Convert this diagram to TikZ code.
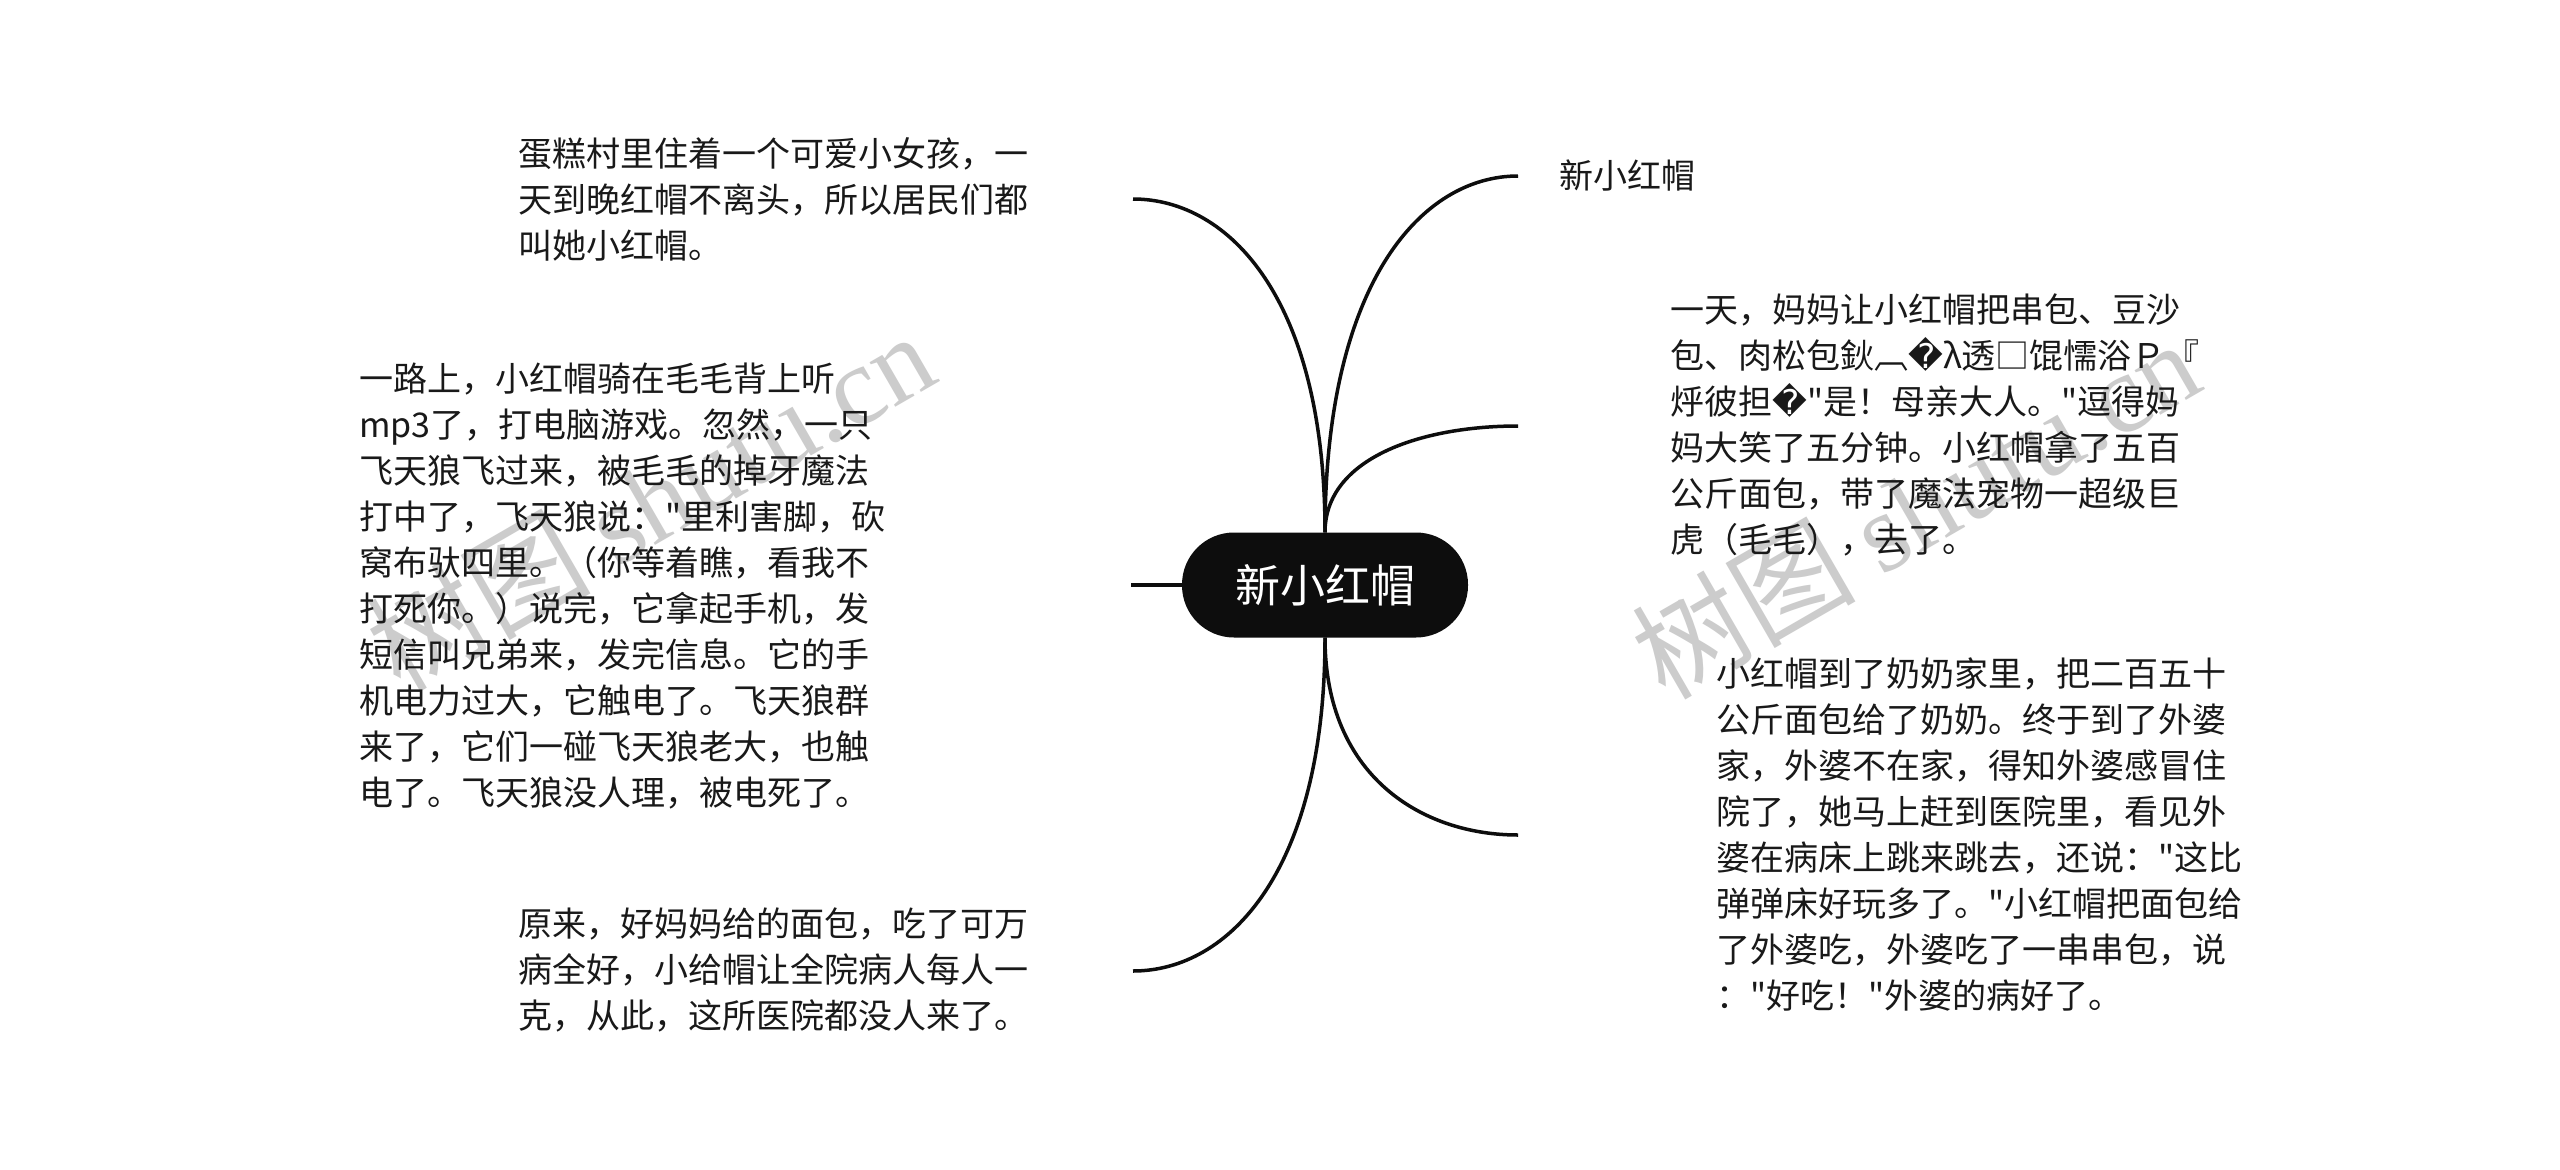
\documentclass[tikz,border=0pt]{standalone}
\usepackage{fontspec}
\setmainfont{Noto Sans CJK SC}
\newfontfamily\cjk{Noto Sans CJK SC}
\newfontfamily\dejavu{DejaVu Sans}
\newfontfamily\wmserif{Liberation Serif}
\usetikzlibrary{calc}
\newcommand{\rpl}{{\dejavu\symbol{"FFFD}}}
\tikzset{
  leaf/.style={anchor=west, align=left, inner sep=0pt, text=black!90,
    font=\cjk\fontsize{34}{46}\selectfont},
  rootbox/.style={fill=black!95, rounded corners=52pt, minimum width=286pt,
    minimum height=105pt, inner sep=0pt, text=white, font=\cjk\fontsize{45}{50}\selectfont},
  branch/.style={line width=3.5pt, draw=black!95},
  wm/.style={text=black!20, rotate=30, inner sep=0pt, font=\cjk\fontsize{112}{116}\selectfont},
}
\begin{document}
\begin{tikzpicture}[x=1pt,y=-1pt]
\useasboundingbox (0,0) rectangle (2560,1170);
\fill[white] (0,0) rectangle (2560,1170);

% watermarks
\node[wm] (wm1) at (650,500) {树图 {\wmserif shutu.cn}};
\node[wm] (wm2) at (1915,508) {树图 {\wmserif shutu.cn}};

% root
\node[rootbox] (root) at (1325,585) {新小红帽};

% connector ends
\coordinate (e1) at (1133,199);
\coordinate (e2) at (1131,585);
\coordinate (e3) at (1133,971);
\coordinate (e4) at (1518,176);
\coordinate (e5) at (1518,426);
\coordinate (e6) at (1518,835);

% leaves
\node[leaf] (t1) at (518,199) {蛋糕村里住着一个可爱小女孩，一\\天到晚红帽不离头，所以居民们都\\叫她小红帽。};
\node[leaf] (t2) at (359,586) {一路上，小红帽骑在毛毛背上听\\mp3了，打电脑游戏。忽然，一只\\飞天狼飞过来，被毛毛的掉牙魔法\\打中了，飞天狼说："里利害脚，砍\\窝布驮四里。（你等着瞧，看我不\\打死你。）说完，它拿起手机，发\\短信叫兄弟来，发完信息。它的手\\机电力过大，它触电了。飞天狼群\\来了，它们一碰飞天狼老大，也触\\电了。飞天狼没人理，被电死了。};
\node[leaf] (t3) at (518,970) {原来，好妈妈给的面包，吃了可万\\病全好，小给帽让全院病人每人一\\克，从此，这所医院都没人来了。};
\node[leaf] (t4) at (1559,176) {新小红帽};
\node[leaf] (t5) at (1670,425) {一天，妈妈让小红帽把串包、豆沙\\包、肉松包鈥︹\rpl λ透□馄懦浴Ｐ『\\烀彼担\rpl"是！母亲大人。"逗得妈\\妈大笑了五分钟。小红帽拿了五百\\公斤面包，带了魔法宠物一超级巨\\虎（毛毛），去了。};
\node[leaf] (t6) at (1716,834) {小红帽到了奶奶家里，把二百五十\\公斤面包给了奶奶。终于到了外婆\\家，外婆不在家，得知外婆感冒住\\院了，她马上赶到医院里，看见外\\婆在病床上跳来跳去，还说："这比\\弹弹床好玩多了。"小红帽把面包给\\了外婆吃，外婆吃了一串串包，说\\："好吃！"外婆的病好了。};

% connectors
\draw[branch] (root.north) .. controls ($(root.north)!0.7!(root.north|-e1)$) and ($(e1)!0.5!(root.north|-e1)$) .. (e1);
\draw[branch] (root.west) -- (e2);
\draw[branch] (root.south) .. controls ($(root.south)!0.7!(root.south|-e3)$) and ($(e3)!0.5!(root.south|-e3)$) .. (e3);
\draw[branch] (root.north) .. controls ($(root.north)!0.7!(root.north|-e4)$) and ($(e4)!0.5!(root.north|-e4)$) .. (e4);
\draw[branch] (root.north) .. controls ($(root.north)!0.7!(root.north|-e5)$) and ($(e5)!0.5!(root.north|-e5)$) .. (e5);
\draw[branch] (root.south) .. controls ($(root.south)!0.7!(root.south|-e6)$) and ($(e6)!0.5!(root.south|-e6)$) .. (e6);
\end{tikzpicture}
\end{document}
